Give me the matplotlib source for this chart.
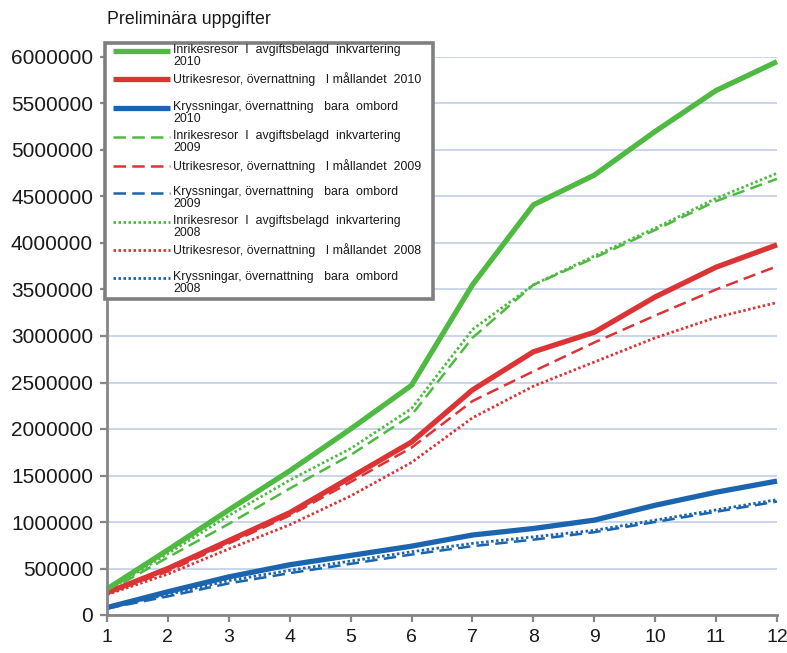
import numpy as np
import matplotlib
matplotlib.use("Agg")
import matplotlib.pyplot as plt
from matplotlib.patches import Rectangle

plt.rcParams['font.family'] = ['Liberation Sans', 'DejaVu Sans']

# data
months = [1, 2, 3, 4, 5, 6, 7, 8, 9, 10, 11, 12]

inrikes_2010 = [280000, 700000, 1130000, 1550000, 2000000, 2470000, 3550000, 4410000, 4730000, 5200000, 5640000, 5950000]
utrikes_2010 = [240000, 500000, 800000, 1100000, 1480000, 1860000, 2420000, 2830000, 3040000, 3420000, 3740000, 3980000]
kryss_2010 = [80000, 250000, 410000, 540000, 640000, 740000, 860000, 930000, 1020000, 1180000, 1320000, 1440000]

inrikes_2009 = [250000, 620000, 980000, 1360000, 1720000, 2150000, 2980000, 3550000, 3840000, 4140000, 4450000, 4690000]
utrikes_2009 = [230000, 470000, 770000, 1070000, 1430000, 1800000, 2300000, 2620000, 2930000, 3220000, 3500000, 3750000]
kryss_2009 = [70000, 200000, 340000, 450000, 550000, 650000, 740000, 810000, 890000, 1000000, 1110000, 1220000]

inrikes_2008 = [260000, 660000, 1070000, 1450000, 1790000, 2220000, 3070000, 3550000, 3860000, 4160000, 4480000, 4750000]
utrikes_2008 = [220000, 440000, 710000, 970000, 1280000, 1640000, 2120000, 2460000, 2720000, 2980000, 3200000, 3360000]
kryss_2008 = [80000, 220000, 370000, 480000, 580000, 680000, 770000, 840000, 910000, 1020000, 1130000, 1240000]

yticks = [0, 500000, 1000000, 1500000, 2000000, 2500000, 3000000, 3500000,
          4000000, 4500000, 5000000, 5500000, 6000000]

labels = ["Inrikesresor  I  avgiftsbelagd  inkvartering\n2010",
          "Utrikesresor, övernattning   I mållandet  2010",
          "Kryssningar, övernattning   bara  ombord\n2010",
          "Inrikesresor  I  avgiftsbelagd  inkvartering\n2009",
          "Utrikesresor, övernattning   I mållandet  2009",
          "Kryssningar, övernattning   bara  ombord\n2009",
          "Inrikesresor  I  avgiftsbelagd  inkvartering\n2008",
          "Utrikesresor, övernattning   I mållandet  2008",
          "Kryssningar, övernattning   bara  ombord\n2008"]

GREEN = '#4fba42'
RED = '#dc3434'
BLUE = '#1b64ae'
DOT = (0, (0.9, 0.9))

series = [(inrikes_2010, GREEN, '-', 3.8),
          (utrikes_2010, RED, '-', 3.8),
          (kryss_2010, BLUE, '-', 3.8),
          (inrikes_2009, GREEN, (0, (5, 2.5)), 1.8),
          (utrikes_2009, RED, (0, (5, 2.5)), 1.8),
          (kryss_2009, BLUE, (0, (5, 2.5)), 1.8),
          (inrikes_2008, GREEN, DOT, 2.0),
          (utrikes_2008, RED, DOT, 2.0),
          (kryss_2008, BLUE, DOT, 2.0)]

W, H = 787, 653
fig = plt.figure(figsize=(W / 100, H / 100), dpi=100)
ax = fig.add_axes([107 / W, (H - 615) / H, 670 / W, 558 / H])

for vals, col, ls, lw in series[::-1]:
    ax.plot(months, vals, color=col, linestyle=ls, linewidth=lw,
            solid_capstyle='butt', dash_capstyle='butt', clip_on=False)

ax.set_xlim(1, 12)
ax.set_ylim(0, 6000000)
ax.set_xticks(months)
ax.set_yticks(yticks)
ax.set_yticklabels([str(v) for v in yticks])
ax.yaxis.grid(True, color='#c9d5ea', linewidth=1.4)
ax.set_axisbelow(True)
for s in ['top', 'right']:
    ax.spines[s].set_visible(False)
for s in ['left', 'bottom']:
    ax.spines[s].set_color('#868686')
    ax.spines[s].set_linewidth(2)
ax.tick_params(axis='both', direction='out', length=5, width=1.6,
               color='#868686', labelsize=15, labelcolor='#1a1a1a')
ax.tick_params(axis='y', pad=5)
ax.tick_params(axis='x', pad=5, labelsize=14)

fig.text(107 / W, 1 - 20 / H, "Preliminära uppgifter", fontsize=12.8,
         color='#1a1a1a', ha='left', va='center')

# legend box drawn by hand so the handles sit on the first text line
lx0, ly0, lw_, lh_ = 105, 43, 328, 256
lax = fig.add_axes([lx0 / W, (H - ly0 - lh_) / H, lw_ / W, lh_ / H])
lax.set_xlim(0, lw_)
lax.set_ylim(lh_, 0)
lax.axis('off')
lax.add_patch(Rectangle((0, 0), lw_, lh_, facecolor='white',
                        edgecolor='#7f7f7f', linewidth=2.6, clip_on=False))
entry_y = [8, 36, 65, 94, 123, 150, 179, 207, 235]
for (vals, col, ls, lw), lab, yy in zip(series, labels, entry_y):
    lax.plot([8, 65], [yy, yy], color=col, linestyle=ls, linewidth=lw,
             solid_capstyle='butt', dash_capstyle='butt')
    lax.text(68, yy - 7, lab, fontsize=8.9, color='#1a1a1a',
             ha='left', va='top', linespacing=1.05)

fig.savefig('out.png', dpi=100)
